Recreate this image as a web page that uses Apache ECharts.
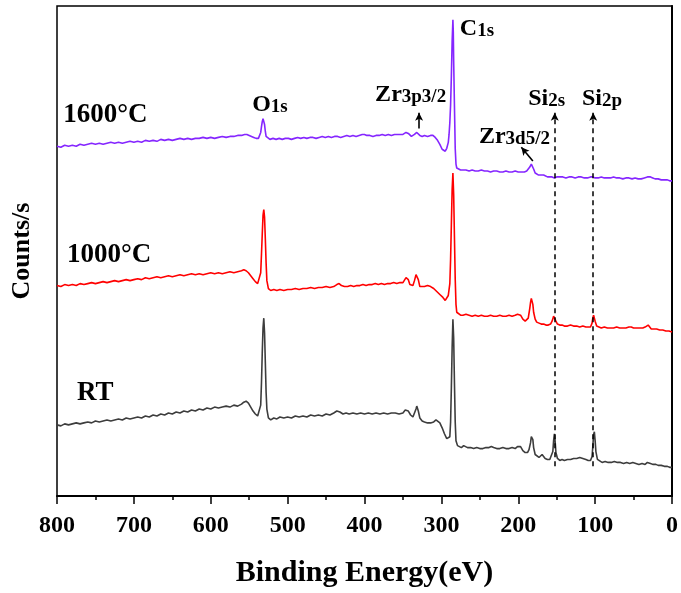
<!DOCTYPE html>
<html>
<head>
<meta charset="utf-8">
<script src="https://cdn.jsdelivr.net/npm/echarts@6/dist/echarts.min.js"></script>
<style>
html,body{margin:0;padding:0;background:#fff;}
#chart{width:681px;height:593px;}
</style>
</head>
<body>
<div id="chart"></div>
<script>
// Binding energy ticks (eV)
var xTicks = [0, 100, 200, 300, 400, 500, 600, 700, 800];

// Spectra: [binding energy (eV), counts (a.u., offset-stacked)]
var rtData = [[800,72],[795,71],[790,73],[785,72],[780,73],[775,74],[770,73],[765,74],[760,75],[755,74],[750,76],[745,75],[740,76],[735,77],[730,76],[725,77],[720,78],[715,77],[710,79],[705,78],[700,79],[695,80],[690,79],[685,81],[680,80],[675,82],[670,81],[665,83],[660,82],[655,84],[650,83],[645,85],[640,84],[635,86],[630,85],[625,87],[620,86],[615,88],[610,87],[605,89],[600,88],[595,90],[590,89],[585,90],[580,91],[575,90],[570,92],[565,91],[560,93],[557,95],[554,96],[551,94],[548,90],[545,86],[542,83],[539,81],[537,83],[535,92],[534,115],[533,145],[532,170],[531,180],[530,165],[529,135],[528,105],[527,88],[525,79],[522,77],[518,79],[514,78],[510,80],[505,79],[500,80],[495,79],[490,81],[485,80],[480,81],[475,80],[470,82],[465,81],[460,82],[455,81],[450,83],[445,82],[440,84],[436,86],[432,85],[428,83],[424,84],[420,83],[415,84],[410,83],[405,84],[400,83],[395,84],[390,83],[385,84],[380,83],[375,84],[370,83],[365,84],[360,84],[355,83],[350,84],[347,87],[345,89],[343,86],[340,82],[337,80],[335,82],[333,88],[332,91],[330,86],[328,79],[325,76],[322,75],[318,74],[314,74],[310,75],[307,77],[305,77],[302,74],[299,69],[296,63],[293,58],[291,57],[289,60],[288,75],[287,110],[286,150],[285,179],[284,160],[283,115],[282,75],[281,56],[279,51],[277,50],[274,49],[271,51],[269,52],[266,49],[262,49],[258,48],[254,49],[250,48],[246,48],[242,49],[238,49],[235,50],[232,49],[228,48],[224,48],[220,49],[216,48],[212,48],[208,49],[204,48],[201,50],[199,52],[197,50],[194,46],[191,44],[188,44],[186,47],[184,54],[183,60],[182,62],[181,57],[180,49],[178,42],[176,40],[173,39],[171,40],[169,42],[167,40],[165,38],[162,37],[159,37],[157,38],[155,45],[154,56],[153,63],[152,55],[151,44],[149,38],[146,36],[143,37],[140,36],[136,37],[132,37],[128,38],[124,38],[120,39],[116,38],[112,37],[109,36],[106,36],[104,40],[103,50],[102,62],[101,65],[100,56],[99,45],[97,37],[95,35],[91,34],[87,35],[83,34],[79,34],[75,35],[71,34],[67,34],[63,33],[59,34],[55,33],[51,34],[47,33],[43,32],[39,33],[35,32],[32,34],[31,36],[30,35],[28,33],[25,32],[21,32],[18,31],[14,31],[10,30],[6,30],[3,29],[0,29]];

var t1000Data = [[800,213],[795,212],[790,214],[785,213],[780,214],[775,213],[770,215],[765,214],[760,215],[755,216],[750,215],[745,216],[740,217],[735,216],[730,217],[725,218],[720,217],[715,218],[710,219],[705,218],[700,219],[695,220],[690,219],[685,221],[680,220],[675,221],[670,222],[665,221],[660,222],[655,223],[650,222],[645,223],[640,224],[635,223],[630,224],[625,225],[620,224],[615,225],[610,224],[605,225],[600,226],[595,225],[590,226],[585,225],[580,226],[575,227],[570,226],[565,227],[560,228],[557,229],[554,228],[551,226],[548,223],[545,220],[542,217],[539,215],[537,217],[535,226],[534,245],[533,265],[532,284],[531,290],[530,282],[529,260],[528,236],[527,218],[525,210],[522,208],[518,209],[514,208],[510,209],[505,208],[500,209],[495,209],[490,210],[485,209],[480,210],[475,210],[470,211],[465,210],[460,211],[455,211],[450,212],[445,211],[440,212],[436,214],[433,215],[430,213],[426,212],[422,212],[418,213],[414,212],[410,213],[406,213],[402,214],[398,213],[394,214],[390,214],[386,215],[382,214],[378,215],[374,214],[370,215],[366,215],[362,216],[358,215],[354,216],[350,216],[348,218],[346,221],[345,222],[343,219],[341,214],[339,212],[337,213],[335,218],[333,224],[332,225],[330,219],[328,212],[326,211],[322,212],[318,213],[314,212],[310,210],[306,207],[302,204],[298,201],[295,198],[293,199],[291,203],[289,215],[288,240],[287,275],[286,310],[285,327],[284,305],[283,262],[282,220],[281,194],[280,186],[278,184],[275,183],[272,183],[268,184],[264,183],[260,182],[256,183],[252,182],[248,183],[244,182],[240,182],[236,183],[232,182],[228,182],[224,183],[220,182],[216,182],[212,183],[208,182],[204,183],[201,184],[199,185],[197,183],[194,179],[191,177],[189,176],[187,180],[185,190],[184,196],[183,200],[182,200],[181,194],[180,186],[178,179],[176,176],[173,175],[170,174],[167,174],[164,173],[161,173],[158,174],[156,177],[154,182],[153,184],[152,182],[151,177],[149,174],[146,173],[143,173],[140,172],[136,172],[132,173],[128,172],[124,172],[120,171],[116,172],[112,171],[109,171],[106,171],[104,175],[103,180],[102,183],[101,181],[100,177],[98,172],[96,170],[92,170],[88,171],[84,170],[80,170],[76,170],[72,171],[68,170],[64,170],[60,170],[56,171],[53,171],[50,170],[46,170],[42,170],[38,170],[35,171],[33,172],[31,173],[29,171],[27,169],[24,169],[20,169],[16,168],[12,168],[8,167],[4,167],[0,166]];

var t1600Data = [[800,354],[795,353],[790,355],[785,354],[780,355],[775,354],[770,356],[765,355],[760,356],[755,357],[750,356],[745,357],[740,356],[735,357],[730,358],[725,357],[720,358],[715,357],[710,358],[705,359],[700,358],[695,359],[690,358],[685,360],[680,359],[675,360],[670,359],[665,361],[660,360],[655,361],[650,360],[645,361],[640,362],[635,361],[630,362],[625,361],[620,362],[615,362],[610,363],[605,362],[600,363],[595,362],[590,363],[585,364],[580,363],[575,364],[570,364],[565,365],[560,365],[556,366],[553,366],[550,365],[547,364],[544,363],[541,362],[538,362],[536,364],[535,368],[534,374],[533,379],[532,382],[531,381],[530,376],[529,369],[528,364],[526,362],[523,361],[519,362],[515,361],[511,362],[507,361],[503,362],[499,362],[495,361],[491,362],[487,363],[483,362],[479,363],[475,362],[471,363],[467,363],[463,362],[459,363],[455,364],[451,363],[447,364],[443,363],[439,364],[435,364],[431,363],[427,364],[423,365],[419,364],[415,365],[411,364],[407,365],[403,366],[400,366],[397,365],[393,365],[389,364],[385,365],[381,365],[377,366],[373,365],[369,366],[365,365],[361,366],[357,366],[353,366],[350,366],[348,367],[346,368],[345,368],[343,367],[341,365],[339,364],[337,365],[335,366],[333,368],[332,368],[330,366],[328,365],[325,364],[322,365],[318,364],[314,365],[311,365],[308,363],[305,360],[302,356],[299,351],[297,349],[295,349],[293,352],[291,358],[290,366],[289,378],[288,396],[287,425],[286,460],[285,482],[284.5,470],[284,440],[283,395],[282,352],[281,336],[280,332],[278,331],[275,330],[272,330],[268,330],[264,329],[260,330],[256,329],[252,329],[248,330],[244,329],[240,329],[236,328],[232,329],[228,329],[224,328],[220,328],[216,329],[212,328],[208,328],[204,329],[200,328],[196,328],[192,328],[189,329],[187,331],[185,333],[183,336],[182,336],[181,334],[180,331],[178,327],[176,325],[174,325],[171,325],[169,326],[167,325],[165,324],[162,323],[159,323],[156,323],[153,322],[150,323],[146,323],[142,323],[138,322],[134,323],[130,323],[126,322],[122,323],[118,323],[114,322],[110,322],[106,323],[103,323],[100,322],[96,322],[92,323],[88,322],[84,322],[80,322],[76,323],[72,322],[68,322],[64,321],[60,322],[56,322],[52,321],[48,322],[44,321],[40,321],[36,322],[32,323],[30,324],[28,323],[25,322],[22,321],[18,321],[14,320],[10,320],[6,320],[3,319],[0,319]];

// Annotation texts (rich-text markup) and their anchor in data coordinates
var annotTexts = ['{c|1600°C}', '{c|1000°C}', '{c|RT}', '{b|O}{s|1s}', '{b|C}{s|1s}',
                  '{b|Zr}{s|3p3/2}', '{b|Zr}{s|3d5/2}', '{b|Si}{s|2s}', '{b|Si}{s|2p}'];
var annotPos = [[792,386],[787,244],[774,104],[523,397],[276,474],[340,407],[205,365],[163,403],[91,403]];
var annotAlign = ['left','left','left','center','left','center','center','center','center'];

// Arrows: [from, to] in data coordinates
var solidArrows = [[[329,372],[329,388]], [[181,339],[196,353]]];
var dashedArrows = [[[152.5,30],[152.5,388]], [[102.5,30],[102.5,388]]];

var FONT = "'Liberation Serif','Times New Roman',serif";
var chart = echarts.init(document.getElementById('chart'), null, {renderer:'canvas'});

var annotData = annotTexts.map(function(t, i){
  return {
    value: annotPos[i],
    label: {show:true, formatter:t, align:annotAlign[i], verticalAlign:'middle', position:'inside'}
  };
});

var markData = [];
solidArrows.forEach(function(a){
  markData.push([{coord:a[0], lineStyle:{type:'solid', color:'#000', width:1.6, opacity:1}}, {coord:a[1]}]);
});
dashedArrows.forEach(function(a){
  markData.push([{coord:a[0], lineStyle:{type:[5,4], color:'#000', width:1.5, opacity:1}}, {coord:a[1]}]);
});

var lineCommon = {type:'line', showSymbol:false, symbol:'none', smooth:false, animation:false, silent:true};

chart.setOption({
  animation:false,
  backgroundColor:'#fff',
  grid:{left:57, right:9, top:6, bottom:91, show:true, borderColor:'#000', borderWidth:1.5, backgroundColor:'transparent'},
  xAxis:{
    type:'value', min:0, max:800, interval:100, inverse:true,
    axisLine:{show:true, lineStyle:{color:'#000', width:2}},
    axisTick:{show:true, inside:false, length:8, lineStyle:{color:'#000', width:1.5}},
    minorTick:{show:true, splitNumber:2, length:4, lineStyle:{color:'#000', width:1.5}},
    splitLine:{show:false},
    axisLabel:{show:true, margin:18, color:'#000', fontSize:24, fontWeight:'bold', fontFamily:FONT,
      formatter:function(v){ return xTicks.indexOf(v) >= 0 ? String(v) : ''; }},
    name:'Binding Energy(eV)', nameLocation:'middle', nameGap:62,
    nameTextStyle:{color:'#000', fontSize:30, fontWeight:'bold', fontFamily:FONT}
  },
  yAxis:{
    type:'value', min:0, max:496,
    axisLine:{show:true, lineStyle:{color:'#000', width:2}},
    axisTick:{show:false}, axisLabel:{show:false}, splitLine:{show:false},
    name:'Counts/s', nameLocation:'middle', nameGap:22,
    nameTextStyle:{color:'#000', fontSize:26, fontWeight:'bold', fontFamily:FONT}
  },
  series:[
    Object.assign({name:'RT', data:rtData, lineStyle:{color:'#3d3d3d', width:1.6}, itemStyle:{color:'#3d3d3d'}}, lineCommon),
    Object.assign({name:'1000°C', data:t1000Data, lineStyle:{color:'#ff0000', width:1.6}, itemStyle:{color:'#ff0000'}}, lineCommon),
    Object.assign({name:'1600°C', data:t1600Data, lineStyle:{color:'#8526ff', width:1.6}, itemStyle:{color:'#8526ff'}}, lineCommon),
    {
      type:'scatter', name:'annotations', data:annotData, symbolSize:0, silent:true, animation:false,
      itemStyle:{color:'rgba(0,0,0,0)', opacity:1},
      label:{
        show:true, color:'#000', opacity:1, fontFamily:FONT, fontWeight:'bold', textBorderWidth:0,
        rich:{
          c:{fontSize:27, fontWeight:'bold', fontFamily:FONT, color:'#000', verticalAlign:'bottom', textBorderWidth:0},
          b:{fontSize:24, fontWeight:'bold', fontFamily:FONT, color:'#000', verticalAlign:'bottom', lineHeight:26, textBorderWidth:0},
          s:{fontSize:19, fontWeight:'bold', fontFamily:FONT, color:'#000', verticalAlign:'bottom', lineHeight:26, textBorderWidth:0}
        }
      },
      markLine:{
        silent:true, animation:false, symbol:['none','arrow'], symbolSize:[6,8],
        label:{show:false}, emphasis:{disabled:true},
        itemStyle:{color:'#000', opacity:1},
        data:markData
      }
    }
  ]
});
</script>
</body>
</html>
